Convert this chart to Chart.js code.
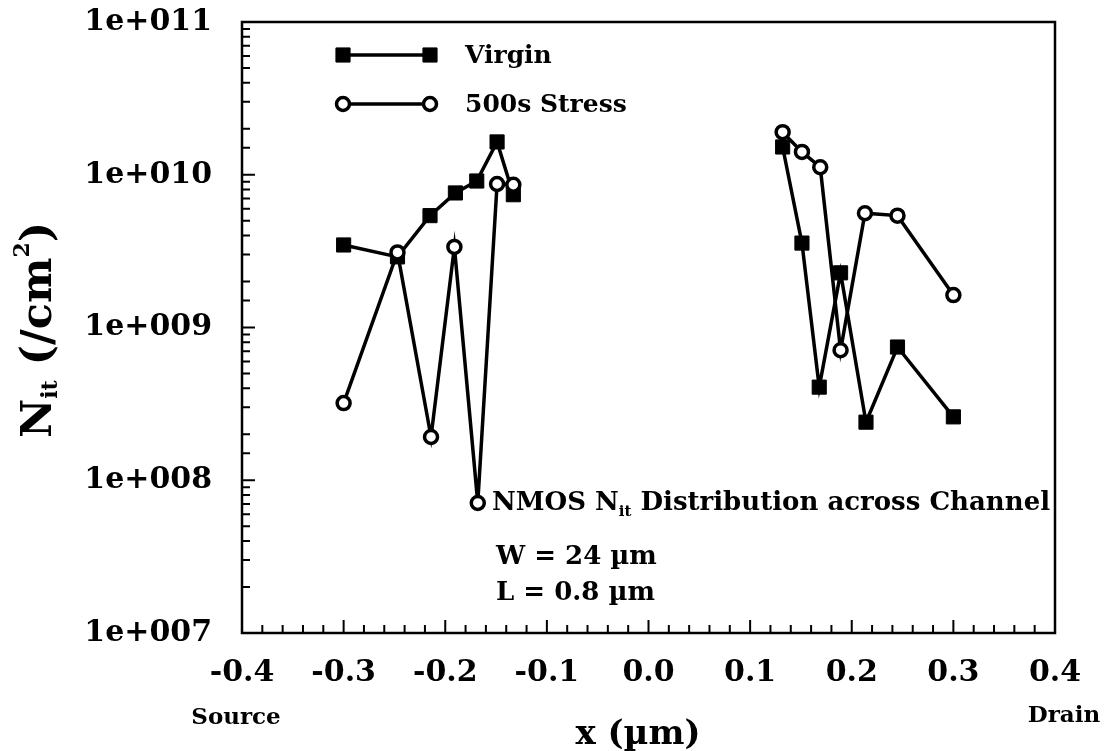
<!DOCTYPE html>
<html>
<head>
<meta charset="utf-8">
<title>NMOS Nit Distribution across Channel</title>
<script src="https://cdn.jsdelivr.net/npm/chart.js@4/dist/chart.umd.min.js"></script>
<style>
  html, body { margin: 0; padding: 0; background: #ffffff; }
  #wrap { width: 1104px; height: 751px; position: relative; }
</style>
</head>
<body>
<div id="wrap"><canvas id="c" width="1104" height="751"></canvas></div>
<script>
// Interface-trap density across the channel (source side < 0 < drain side)
const virginX = [-0.300, -0.247, -0.215, -0.190, -0.169, -0.149, -0.133, 0.132, 0.151, 0.168, 0.189, 0.214, 0.245, 0.300];
const virginN = [3.47e9, 2.9e9, 5.4e9, 7.6e9, 9.1e9, 1.64e10, 7.4e9, 1.52e10, 3.57e9, 4.07e8, 2.28e9, 2.4e8, 7.45e8, 2.6e8];
const stressX = [-0.300, -0.247, -0.214, -0.191, -0.168, -0.149, -0.133, 0.132, 0.151, 0.169, 0.189, 0.213, 0.245, 0.300];
const stressN = [3.2e8, 3.1e9, 1.92e8, 3.37e9, 7.1e7, 8.7e9, 8.6e9, 1.9e10, 1.41e10, 1.12e10, 7.1e8, 5.6e9, 5.4e9, 1.63e9];

const seriesNames = ['Virgin', '500s Stress'];
const xTickLabels = ['-0.4', '-0.3', '-0.2', '-0.1', '0.0', '0.1', '0.2', '0.3', '0.4'];
const yTickLabels = ['1e+007', '1e+008', '1e+009', '1e+010', '1e+011'];
const xEndLabels = ['Source', 'Drain'];
const noteLines = ['W = 24 \u00B5m', 'L = 0.8 \u00B5m'];

const SERIF = '"DejaVu Serif", "Liberation Serif", serif';

// Build point lists; no measurements near the channel centre, so break the line there
function toPoints(xs, ys) {
  const pts = [];
  for (let i = 0; i < xs.length; i++) {
    if (i > 0 && xs[i - 1] < 0 && xs[i] > 0) pts.push({ x: 0, y: null });
    pts.push({ x: xs[i], y: ys[i] });
  }
  return pts;
}

const datasets = [
  {
    label: seriesNames[1],
    data: toPoints(stressX, stressN),
    borderColor: '#000', borderWidth: 3.5,
    pointStyle: 'circle', pointRadius: 6.5, pointBorderWidth: 3.5,
    pointBackgroundColor: '#fff', pointBorderColor: '#000',
    spanGaps: false, tension: 0
  },
  {
    label: seriesNames[0],
    data: toPoints(virginX, virginN),
    borderColor: '#000', borderWidth: 3.5,
    pointStyle: 'rect', pointRadius: 10, pointBorderWidth: 1,
    pointBackgroundColor: '#000', pointBorderColor: '#000',
    spanGaps: false, tension: 0
  }
];

const isDecimalTenth = v => Math.abs(v * 10 - Math.round(v * 10)) < 1e-6;
const isDecade = v => Math.abs(Math.log10(v) - Math.round(Math.log10(v))) < 1e-6;

// Frame, inward tick marks, legend, axis titles and notes
const decorations = {
  id: 'decorations',
  afterDraw(chart) {
    const { ctx, chartArea: a, scales } = chart;
    const xs = scales.x, ys = scales.y;
    ctx.save();
    ctx.strokeStyle = '#000';
    ctx.lineWidth = 2.5;
    ctx.strokeRect(a.left, a.top, a.right - a.left, a.bottom - a.top);

    ctx.lineWidth = 2;
    ctx.beginPath();
    xs.ticks.forEach(t => {
      const px = xs.getPixelForValue(t.value);
      const len = isDecimalTenth(t.value) ? 13 : 8;
      ctx.moveTo(px, a.bottom);
      ctx.lineTo(px, a.bottom - len);
    });
    ys.ticks.forEach(t => {
      const py = ys.getPixelForValue(t.value);
      const len = isDecade(t.value) ? 13 : 8;
      ctx.moveTo(a.left, py);
      ctx.lineTo(a.left + len, py);
    });
    ctx.stroke();

    // Legend: a short line with a marker at each end
    const rows = [
      { ds: chart.data.datasets[1], y: 55 },
      { ds: chart.data.datasets[0], y: 104 }
    ];
    rows.forEach(r => {
      const x0 = 343, x1 = 430;
      ctx.strokeStyle = '#000';
      ctx.lineWidth = r.ds.borderWidth;
      ctx.beginPath();
      ctx.moveTo(x0, r.y);
      ctx.lineTo(x1, r.y);
      ctx.stroke();
      [x0, x1].forEach(px => {
        ctx.fillStyle = r.ds.pointBackgroundColor;
        ctx.strokeStyle = r.ds.pointBorderColor;
        ctx.lineWidth = r.ds.pointBorderWidth;
        Chart.helpers.drawPoint(ctx, { pointStyle: r.ds.pointStyle, radius: r.ds.pointRadius, rotation: 0, borderWidth: r.ds.pointBorderWidth }, px, r.y);
      });
      ctx.fillStyle = '#000';
      ctx.font = 'bold 25px ' + SERIF;
      ctx.textAlign = 'left';
      ctx.textBaseline = 'middle';
      ctx.fillText(r.ds.label, 465, r.y + 1);
    });

    // Notes inside the plot
    ctx.fillStyle = '#000';
    ctx.textBaseline = 'alphabetic';
    ctx.textAlign = 'left';
    let x = 492;
    const big = 'bold 26px ' + SERIF, small = 'bold 15px ' + SERIF;
    const baseNote = 510;
    const parts = [['NMOS N', big, 0], ['it', small, 6], [' Distribution across Channel', big, 0]];
    parts.forEach(p => {
      ctx.font = p[1];
      ctx.fillText(p[0], x, baseNote + p[2]);
      x += ctx.measureText(p[0]).width;
    });
    ctx.font = big;
    ctx.fillText(noteLines[0], 496, 564);
    ctx.fillText(noteLines[1], 496, 600);

    // Axis end labels and x title
    ctx.font = 'bold 23px ' + SERIF;
    ctx.textAlign = 'center';
    ctx.textBaseline = 'middle';
    ctx.fillText(xEndLabels[0], 236, 718);
    ctx.fillText(xEndLabels[1], 1064, 716);
    ctx.font = 'bold 34px ' + SERIF;
    ctx.fillText('x (\u00B5m)', 638, 735);

    // y title: N with subscript "it", then (/cm²), rotated
    ctx.translate(40, 330);
    ctx.rotate(-Math.PI / 2);
    const tp = [['N', 'bold 43px ' + SERIF, 0], ['it', 'bold 22px ' + SERIF, 11], [' (/cm', 'bold 43px ' + SERIF, 0], ['2', 'bold 22px ' + SERIF, -17], [')', 'bold 43px ' + SERIF, 0]];
    let total = 0;
    tp.forEach(p => { ctx.font = p[1]; total += ctx.measureText(p[0]).width; });
    let tx = -total / 2;
    ctx.textAlign = 'left';
    ctx.textBaseline = 'middle';
    tp.forEach(p => {
      ctx.font = p[1];
      ctx.fillText(p[0], tx, p[2]);
      tx += ctx.measureText(p[0]).width;
    });
    ctx.restore();
  }
};

new Chart(document.getElementById('c'), {
  type: 'line',
  data: { datasets },
  options: {
    responsive: false,
    animation: false,
    layout: { padding: { left: 0, top: 22, right: 49, bottom: 0 } },
    plugins: { legend: { display: false }, title: { display: false }, tooltip: { enabled: false } },
    scales: {
      x: {
        type: 'linear',
        min: -0.4, max: 0.4,
        grid: { display: false, drawTicks: false },
        border: { display: false },
        afterFit: s => { s.height = 118; s.paddingLeft = 0; s.paddingRight = 0; },
        ticks: {
          stepSize: 0.02, autoSkip: false, maxRotation: 0, minRotation: 0,
          padding: 22, color: '#000',
          font: { family: SERIF, size: 30, weight: 'bold' },
          callback: v => isDecimalTenth(v) ? xTickLabels[Math.round(v * 10) + 4] : ''
        }
      },
      y: {
        type: 'logarithmic',
        min: 1e7, max: 1e11,
        grid: { display: false, drawTicks: false },
        border: { display: false },
        afterFit: s => { s.width = 242; s.paddingTop = 0; s.paddingBottom = 0; },
        ticks: {
          autoSkip: false, padding: 30, color: '#000',
          font: { family: SERIF, size: 30, weight: 'bold' },
          callback: v => isDecade(v) ? yTickLabels[Math.round(Math.log10(v)) - 7] : ''
        }
      }
    }
  },
  plugins: [decorations]
});
</script>
</body>
</html>
